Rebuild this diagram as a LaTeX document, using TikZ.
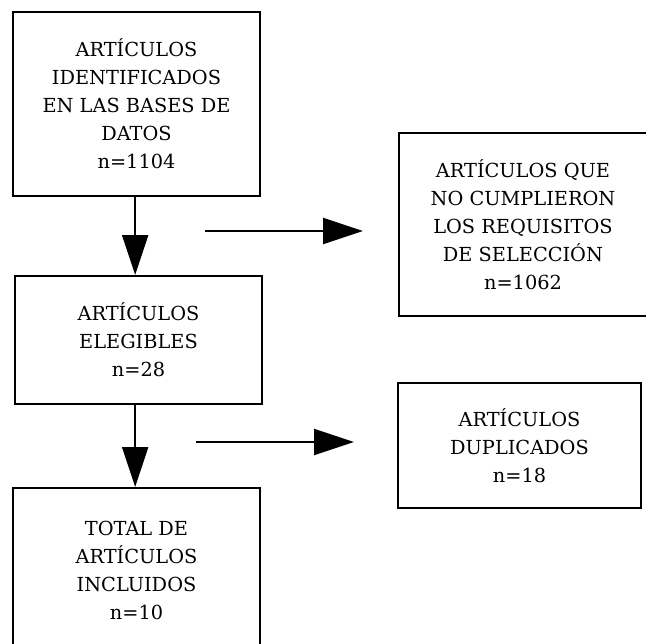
\documentclass[tikz,border=0pt]{standalone}
\usepackage{fontspec}
\setmainfont{DejaVu Serif}
\usepackage{tikz}
\usetikzlibrary{arrows.meta,positioning,calc}

\tikzset{
	caja/.style={draw, line width=1.5pt, align=center, inner sep=0pt,
		font=\fontsize{14.5}{21}\selectfont},
	flecha/.style={line width=1.5pt, -{Triangle[length=30pt,width=19.5pt]}}
}

\begin{document}
\begin{tikzpicture}[x=0.75pt,y=-0.75pt]
		
		\useasboundingbox (0,0) rectangle (646,643);
		\clip (0,0) rectangle (646,643);
		
		\node[caja, minimum width=185.25pt, minimum height=138pt] (ident) at (136.5,104) {ARTÍCULOS\\IDENTIFICADOS\\EN LAS BASES DE\\DATOS\\n=1104};
		\node[caja, minimum width=185.25pt, minimum height=96pt] (eleg) at (138.5,340) {ARTÍCULOS\\ELEGIBLES\\n=28};
		\node[caja, minimum width=185.25pt, minimum height=123pt] (incl) at (136.5,570) {TOTAL DE\\ARTÍCULOS\\INCLUIDOS\\n=10};
		
		\node[caja, minimum width=186pt, minimum height=137.25pt] (nocump) at (523,224.5) {ARTÍCULOS QUE\\NO CUMPLIERON\\LOS REQUISITOS\\DE SELECCIÓN\\n=1062};
		\node[caja, minimum width=182.25pt, minimum height=93.75pt] (dupl) at (519.5,445.5) {ARTÍCULOS\\DUPLICADOS\\n=18};
		
		% flechas verticales
		\draw[flecha] ([xshift=-1pt]ident.south) -- ([xshift=-1pt]ident.south |- eleg.north);
		\draw[flecha] ([xshift=-1pt]ident.south |- eleg.south) -- ([xshift=-1pt]ident.south |- incl.north);
		
		% flechas horizontales
		\coordinate (f1a) at (205,231);
		\coordinate (f1b) at (363,231);
		\coordinate (f2a) at (196,442);
		\coordinate (f2b) at (354,442);
		\draw[flecha] (f1a) -- (f1b);
		\draw[flecha] (f2a) -- (f2b);
		
\end{tikzpicture}
\end{document}
